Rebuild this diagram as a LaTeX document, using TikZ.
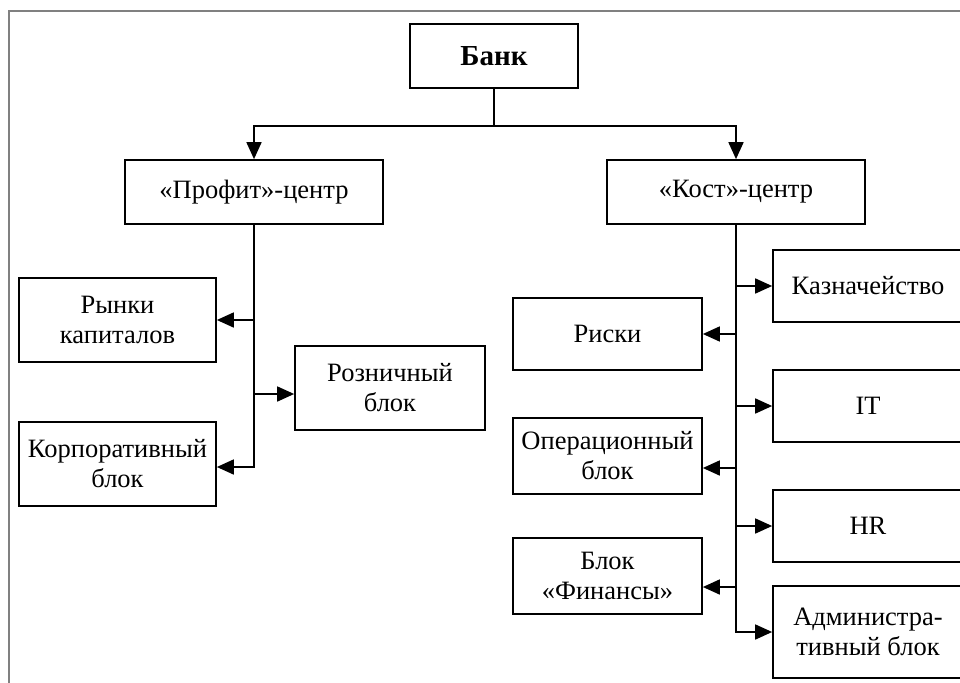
\documentclass[tikz,border=0pt]{standalone}
\usepackage{fontspec}
\setmainfont{Liberation Serif}
\usetikzlibrary{arrows.meta,positioning}
\tikzset{>={Triangle[length=17pt 0,width=15pt 0]}}
\tikzset{
  blk/.style={draw, line width=1.7pt, align=center, inner sep=0pt,
    font=\fontsize{26.5}{30}\selectfont},
  lnk/.style={line width=1.7pt},
}

\begin{document}
\begin{tikzpicture}[x=1pt,y=-1pt]
  \useasboundingbox (0,0) rectangle (960,682);
  \clip (0,0) rectangle (960,682);
  \draw[gray, line width=1.5pt] (9,700) -- (9,11) -- (980,11);

  \node[blk, minimum width=168pt, minimum height=64pt,
    font=\bfseries\fontsize{29}{32}\selectfont] (bank) at (494,56) {Банк};
  \node[blk, minimum width=258pt, minimum height=64pt] (profit) at (254,192) {«Профит»-центр};
  \node[blk, minimum width=258pt, minimum height=64pt] (kost) at (736,192) {«Кост»-центр};

  \node[blk, minimum width=197pt, minimum height=84pt] (rynki) at (117.5,320) {Рынки\\капиталов};
  \node[blk, minimum width=197pt, minimum height=84pt] (korp) at (117.5,464) {Корпоративный\\блок};
  \node[blk, minimum width=190pt, minimum height=84pt] (rozn) at (390,388) {Розничный\\блок};

  \node[blk, minimum width=190pt, minimum height=72pt] (kazn) at (868,286) {Казначейство};
  \node[blk, minimum width=190pt, minimum height=72pt] (it) at (868,406) {IT};
  \node[blk, minimum width=190pt, minimum height=72pt] (hr) at (868,526) {HR};
  \node[blk, minimum width=190pt, minimum height=92pt] (adm) at (868,632) {Администра-\\тивный блок};

  \node[blk, minimum width=189pt, minimum height=72pt] (riski) at (607.5,334) {Риски};
  \node[blk, minimum width=189pt, minimum height=76pt] (oper) at (607.5,456) {Операционный\\блок};
  \node[blk, minimum width=189pt, minimum height=76pt] (fin) at (607.5,576) {Блок\\«Финансы»};

  % top level
  \draw[lnk,->] (bank.south) -- ++(0,37) coordinate (split) -| (profit.north);
  \draw[lnk,->] (split) -| (kost.north);

  % profit centre
  \draw[lnk,->] (profit.south) |- ([yshift=-3pt]korp.east);
  \draw[lnk,->] (rynki.east -| profit.south) -- (rynki.east);
  \draw[lnk,->] ([yshift=-6pt]rozn.west -| profit.south) -- ([yshift=-6pt]rozn.west);

  % cost centre
  \draw[lnk,->] (kost.south) |- (adm.west);
  \draw[lnk,->] (kazn.west -| kost.south) -- (kazn.west);
  \draw[lnk,->] (it.west -| kost.south) -- (it.west);
  \draw[lnk,->] (hr.west -| kost.south) -- (hr.west);
  \draw[lnk,->] (riski.east -| kost.south) -- (riski.east);
  \draw[lnk,->] ([yshift=-12pt]oper.east -| kost.south) -- ([yshift=-12pt]oper.east);
  \draw[lnk,->] ([yshift=-11pt]fin.east -| kost.south) -- ([yshift=-11pt]fin.east);
\end{tikzpicture}
\end{document}
